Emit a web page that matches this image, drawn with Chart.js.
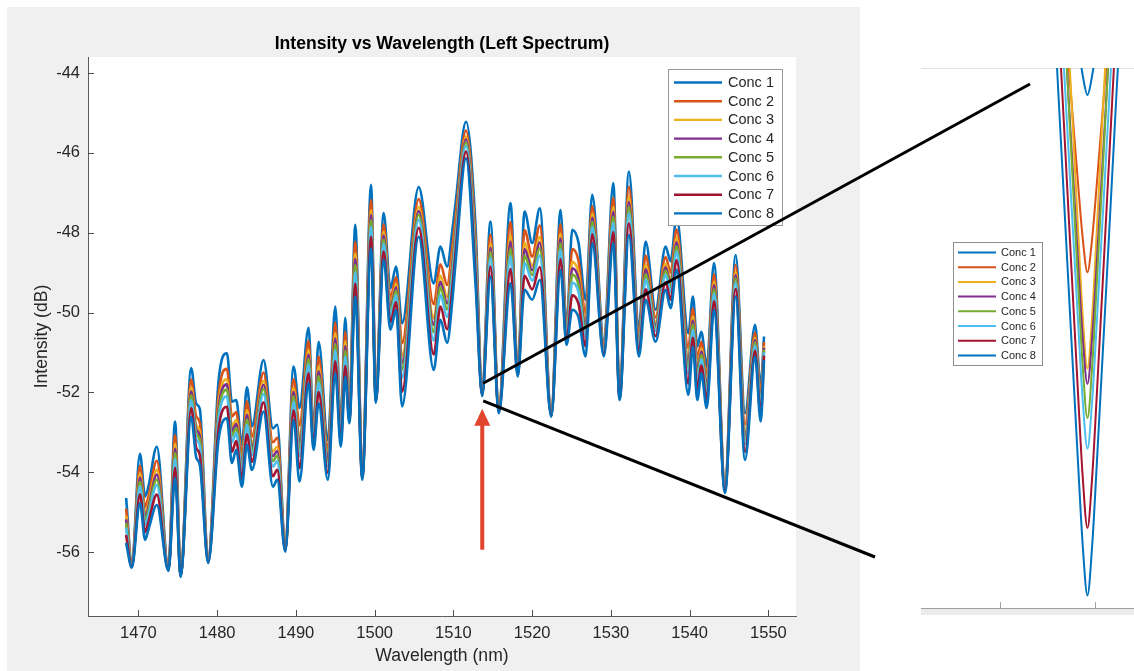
<!DOCTYPE html>
<html>
<head>
<meta charset="utf-8">
<script src="https://cdn.jsdelivr.net/npm/chart.js@4.4.1/dist/chart.umd.min.js"></script>
<style>
  html, body { margin: 0; padding: 0; background: #fff; }
  #wrap { position: relative; width: 1134px; height: 671px; overflow: hidden; }
  #mainChart { position: absolute; left: 0; top: 0; }
  #zoomChart { position: absolute; left: 900px; top: 0; }
</style>
</head>
<body>
<div id="wrap">
  <canvas id="mainChart" width="1134" height="671"></canvas>
  <canvas id="zoomChart" width="234" height="671"></canvas>
</div>
<script>
const chartTitle = 'Intensity vs Wavelength (Left Spectrum)';
const seriesNames = ['Conc 1', 'Conc 2', 'Conc 3', 'Conc 4', 'Conc 5', 'Conc 6', 'Conc 7', 'Conc 8'];
const seriesColors = ['#0072BD', '#D95319', '#EDB120', '#7E2F8E', '#77AC30', '#4DBEEE', '#A2142F', '#0072BD'];
const xTicks = [1470, 1480, 1490, 1500, 1510, 1520, 1530, 1540, 1550];
const yTicks = [-56, -54, -52, -50, -48, -46, -44];

// wavelength (nm) of each sample
const wavelength = [
  1468.44, 1469.16, 1470.20, 1470.85, 1471.27, 1472.34, 1473.81, 1474.66, 1475.36, 1476.70,
  1477.33, 1477.80, 1478.86, 1480.17, 1481.24, 1481.87, 1482.42, 1483.14, 1483.78, 1484.41,
  1485.89, 1487.08, 1487.63, 1488.65, 1489.70, 1490.46, 1491.61, 1492.24, 1492.88, 1494.05,
  1495.00, 1495.70, 1496.27, 1496.78, 1497.54, 1498.43, 1499.54, 1500.15, 1501.14, 1502.00,
  1502.72, 1503.48, 1505.59, 1507.50, 1508.35, 1509.20, 1509.87, 1510.25, 1511.60, 1512.80,
  1513.65, 1514.70, 1515.76, 1517.25, 1518.17, 1519.03, 1520.00, 1520.97, 1522.42, 1523.60,
  1524.36, 1525.09, 1525.89, 1526.78, 1527.63, 1529.10, 1530.30, 1531.10, 1532.28, 1533.55,
  1534.40, 1535.67, 1536.94, 1537.58, 1538.34, 1539.83, 1540.41, 1540.97, 1541.48, 1542.16,
  1543.09, 1544.48, 1545.84, 1547.03, 1548.30, 1549.02, 1549.44
];

const conc1 = [
  -54.64, -56.27, -53.54, -54.61, -54.36, -53.36, -56.39, -52.73, -56.54, -51.39,
  -52.28, -52.42, -56.14, -51.73, -51.02, -52.23, -52.19, -53.31, -51.87, -52.85,
  -51.19, -52.90, -52.81, -55.82, -51.35, -52.39, -50.38, -52.94, -50.73, -53.19,
  -49.85, -52.81, -50.13, -52.44, -47.80, -53.99, -46.80, -52.01, -47.51, -49.39,
  -48.85, -50.27, -46.86, -49.27, -48.35, -48.85, -47.93, -47.30, -45.22, -47.80,
  -51.96, -47.72, -52.39, -47.26, -51.49, -47.47, -48.26, -47.39, -52.49, -47.43,
  -50.35, -47.93, -48.26, -49.68, -47.05, -50.69, -46.76, -52.01, -46.47, -50.35,
  -48.22, -49.93, -48.35, -48.72, -47.60, -50.52, -49.60, -50.85, -50.48, -51.35,
  -48.76, -54.27, -48.56, -52.52, -50.31, -51.85, -50.60
];
const conc2 = [
  -54.91, -56.30, -53.84, -54.87, -54.62, -53.71, -56.41, -53.07, -56.56, -51.68,
  -52.60, -52.76, -56.17, -52.08, -51.41, -52.60, -52.49, -53.56, -52.22, -53.11,
  -51.50, -53.25, -53.14, -55.86, -51.67, -52.83, -50.71, -53.06, -51.10, -53.43,
  -50.25, -52.94, -50.48, -52.52, -48.23, -54.04, -47.18, -52.07, -47.79, -49.64,
  -49.11, -50.77, -47.16, -49.79, -48.79, -49.31, -48.35, -47.66, -45.44, -48.15,
  -52.01, -48.05, -52.42, -47.74, -51.52, -47.94, -48.60, -47.82, -52.52, -47.79,
  -50.46, -48.41, -48.71, -50.02, -47.34, -50.79, -47.12, -52.05, -46.85, -50.53,
  -48.57, -50.12, -48.61, -49.00, -47.92, -50.89, -49.90, -51.17, -50.73, -51.60,
  -49.04, -54.33, -48.81, -52.80, -50.50, -52.06, -50.74
];
const conc3 = [
  -55.09, -56.32, -54.03, -55.04, -54.79, -53.94, -56.42, -53.29, -56.57, -51.88,
  -52.82, -52.98, -56.19, -52.31, -51.67, -52.85, -52.69, -53.73, -52.45, -53.29,
  -51.71, -53.48, -53.36, -55.89, -51.89, -53.13, -50.94, -53.14, -51.35, -53.59,
  -50.52, -53.03, -50.72, -52.57, -48.52, -54.07, -47.44, -52.11, -47.98, -49.81,
  -49.28, -51.10, -47.36, -50.14, -49.08, -49.61, -48.63, -47.90, -45.59, -48.39,
  -52.03, -48.27, -52.44, -48.06, -51.53, -48.25, -48.83, -48.11, -52.54, -48.03,
  -50.53, -48.73, -49.01, -50.25, -47.53, -50.85, -47.36, -52.08, -47.11, -50.65,
  -48.80, -50.25, -48.78, -49.19, -48.13, -51.14, -50.10, -51.39, -50.90, -51.77,
  -49.23, -54.37, -48.98, -52.99, -50.63, -52.20, -50.84
];
const conc4 = [
  -55.18, -56.33, -54.13, -55.13, -54.88, -54.06, -56.43, -53.41, -56.58, -51.98,
  -52.92, -53.09, -56.20, -52.43, -51.80, -52.97, -52.79, -53.81, -52.56, -53.37,
  -51.81, -53.60, -53.47, -55.90, -51.99, -53.27, -51.05, -53.18, -51.47, -53.67,
  -50.65, -53.07, -50.84, -52.60, -48.66, -54.09, -47.56, -52.13, -48.07, -49.89,
  -49.37, -51.27, -47.46, -50.31, -49.23, -49.77, -48.77, -48.02, -45.66, -48.51,
  -52.04, -48.38, -52.45, -48.22, -51.54, -48.41, -48.94, -48.25, -52.55, -48.15,
  -50.57, -48.89, -49.16, -50.36, -47.63, -50.89, -47.48, -52.10, -47.23, -50.71,
  -48.92, -50.31, -48.87, -49.28, -48.24, -51.26, -50.20, -51.49, -50.98, -51.85,
  -49.32, -54.39, -49.06, -53.08, -50.69, -52.27, -50.88
];
const conc5 = [
  -55.27, -56.34, -54.23, -55.21, -54.96, -54.18, -56.43, -53.52, -56.58, -52.07,
  -53.03, -53.20, -56.21, -52.55, -51.93, -53.09, -52.89, -53.90, -52.68, -53.46,
  -51.91, -53.72, -53.58, -55.92, -52.10, -53.42, -51.16, -53.22, -51.59, -53.75,
  -50.79, -53.12, -50.95, -52.62, -48.81, -54.10, -47.69, -52.15, -48.17, -49.97,
  -49.45, -51.43, -47.55, -50.49, -49.37, -49.92, -48.91, -48.14, -45.74, -48.62,
  -52.04, -48.49, -52.46, -48.39, -51.55, -48.57, -49.06, -48.39, -52.56, -48.27,
  -50.61, -49.05, -49.31, -50.48, -47.73, -50.92, -47.60, -52.11, -47.36, -50.77,
  -49.04, -50.38, -48.95, -49.38, -48.34, -51.38, -50.30, -51.60, -51.06, -51.93,
  -49.42, -54.41, -49.14, -53.18, -50.75, -52.34, -50.93
];
const conc6 = [
  -55.39, -56.35, -54.35, -55.32, -55.07, -54.32, -56.44, -53.66, -56.59, -52.20,
  -53.16, -53.34, -56.23, -52.69, -52.10, -53.25, -53.02, -54.00, -52.82, -53.57,
  -52.04, -53.86, -53.72, -55.93, -52.23, -53.60, -51.30, -53.27, -51.75, -53.85,
  -50.95, -53.17, -51.10, -52.66, -48.99, -54.12, -47.85, -52.18, -48.28, -50.08,
  -49.56, -51.64, -47.68, -50.70, -49.56, -50.11, -49.09, -48.29, -45.83, -48.77,
  -52.05, -48.63, -52.48, -48.59, -51.56, -48.76, -49.20, -48.57, -52.57, -48.42,
  -50.65, -49.25, -49.49, -50.62, -47.85, -50.96, -47.75, -52.13, -47.52, -50.85,
  -49.18, -50.46, -49.06, -49.49, -48.48, -51.54, -50.43, -51.73, -51.17, -52.04,
  -49.53, -54.44, -49.25, -53.29, -50.83, -52.43, -50.99
];
const conc7 = [
  -55.57, -56.37, -54.55, -55.50, -55.25, -54.56, -56.46, -53.89, -56.61, -52.39,
  -53.38, -53.57, -56.25, -52.93, -52.36, -53.49, -53.22, -54.17, -53.05, -53.74,
  -52.25, -54.10, -53.94, -55.96, -52.45, -53.90, -51.52, -53.35, -51.99, -54.01,
  -51.22, -53.26, -51.34, -52.71, -49.28, -54.15, -48.10, -52.22, -48.47, -50.24,
  -49.74, -51.98, -47.88, -51.05, -49.85, -50.42, -49.37, -48.53, -45.97, -49.01,
  -52.07, -48.85, -52.50, -48.91, -51.58, -49.08, -49.42, -48.86, -52.59, -48.66,
  -50.73, -49.57, -49.79, -50.84, -48.04, -51.03, -47.99, -52.16, -47.77, -50.97,
  -49.42, -50.59, -49.24, -49.68, -48.69, -51.78, -50.63, -51.95, -51.33, -52.20,
  -49.72, -54.48, -49.41, -53.48, -50.96, -52.57, -51.08
];
const conc8 = [
  -55.77, -56.39, -54.77, -55.69, -55.44, -54.82, -56.47, -54.14, -56.62, -52.61,
  -53.62, -53.82, -56.27, -53.19, -52.65, -53.77, -53.44, -54.36, -53.31, -53.94,
  -52.48, -54.36, -54.19, -55.99, -52.69, -54.23, -51.77, -53.44, -52.27, -54.19,
  -51.52, -53.36, -51.60, -52.77, -49.60, -54.19, -48.39, -52.26, -48.68, -50.43,
  -49.93, -52.35, -48.10, -51.44, -50.18, -50.76, -49.68, -48.80, -46.14, -49.27,
  -52.09, -49.10, -52.52, -49.27, -51.60, -49.43, -49.68, -49.18, -52.61, -48.93,
  -50.81, -49.93, -50.13, -51.10, -48.26, -51.10, -48.26, -52.19, -48.06, -51.10,
  -49.68, -50.73, -49.43, -49.89, -48.93, -52.06, -50.85, -52.19, -51.52, -52.39,
  -49.93, -54.52, -49.60, -53.69, -51.10, -52.73, -51.19
];
const seriesValues = [conc1, conc2, conc3, conc4, conc5, conc6, conc7, conc8];

// zoomed view of the dip near 1513.6 nm
const zoomWavelength = [1513.552, 1513.562, 1513.572, 1513.582, 1513.587, 1513.592, 1513.597, 1513.602, 1513.612, 1513.622, 1513.632];
const zoomTicks = [1513.5, 1513.6];
const zoom1 = [-51.539, -51.617, -51.695, -51.772, -51.808, -51.830, -51.808, -51.772, -51.695, -51.617, -51.539];
const zoom2 = [-51.524, -51.659, -51.794, -51.927, -51.989, -52.027, -51.989, -51.927, -51.794, -51.659, -51.524];
const zoom3 = [-51.348, -51.559, -51.770, -51.977, -52.075, -52.134, -52.075, -51.977, -51.770, -51.559, -51.348];
const zoom4 = [-51.459, -51.645, -51.830, -52.013, -52.099, -52.151, -52.099, -52.013, -51.830, -51.645, -51.459];
const zoom5 = [-51.423, -51.629, -51.834, -52.036, -52.131, -52.189, -52.131, -52.036, -51.834, -51.629, -51.423];
const zoom6 = [-51.505, -51.699, -51.891, -52.080, -52.169, -52.223, -52.169, -52.080, -51.891, -51.699, -51.505];
const zoom7 = [-51.552, -51.756, -51.959, -52.160, -52.254, -52.311, -52.254, -52.160, -51.959, -51.756, -51.552];
const zoom8 = [-51.639, -51.840, -52.040, -52.237, -52.330, -52.386, -52.330, -52.237, -52.040, -51.840, -51.639];
const zoomValues = [zoom1, zoom2, zoom3, zoom4, zoom5, zoom6, zoom7, zoom8];

// annotation anchors (data units on the main axes, page pixels for the far ends)
const zoomMark = { wavelength: 1513.78, upper: -51.77, lower: -52.21, upperEnd: [1030, 84], lowerEnd: [875, 557] };
const arrowMark = { wavelength: 1513.66, tip: -52.41, tail: -55.94 };

const fontFamily = '"Liberation Sans", Arial, Helvetica, sans-serif';
const textColor = '#262626';

function strokeLine(ctx, x0, y0, x1, y1) {
  ctx.beginPath();
  ctx.moveTo(x0, y0);
  ctx.lineTo(x1, y1);
  ctx.stroke();
}

function drawLegend(ctx, box) {
  ctx.save();
  ctx.fillStyle = '#ffffff';
  ctx.fillRect(box.x, box.y, box.w, box.h);
  ctx.strokeStyle = box.edge;
  ctx.lineWidth = 1;
  ctx.strokeRect(box.x + 0.5, box.y + 0.5, box.w - 1, box.h - 1);
  ctx.font = box.fontSize + 'px ' + fontFamily;
  ctx.textAlign = 'left';
  ctx.textBaseline = 'middle';
  seriesNames.forEach((name, i) => {
    const y = box.firstRow + i * box.rowStep;
    ctx.strokeStyle = seriesColors[i];
    ctx.lineWidth = box.lineWidth;
    strokeLine(ctx, box.lineX0, y, box.lineX1, y);
    ctx.fillStyle = textColor;
    ctx.fillText(name, box.textX, y + 0.5);
  });
  ctx.restore();
}

const mainDecor = {
  id: 'mainDecor',
  beforeDraw(chart) {
    const { ctx, chartArea: a } = chart;
    ctx.save();
    ctx.fillStyle = '#f0f0f0';
    ctx.fillRect(7, 7, 853, 664);
    ctx.fillStyle = '#ffffff';
    ctx.fillRect(a.left, a.top, a.right - a.left, a.bottom - a.top);
    ctx.fillStyle = '#000';
    ctx.font = 'bold 17.6px ' + fontFamily;
    ctx.textAlign = 'center';
    ctx.textBaseline = 'middle';
    ctx.fillText(chartTitle, (a.left + a.right) / 2, 44);
    ctx.restore();
  },
  afterDatasetsDraw(chart) {
    const { ctx, chartArea: a } = chart;
    const xs = chart.scales.x, ys = chart.scales.y;
    ctx.save();
    // inward ticks, MATLAB style
    ctx.strokeStyle = '#4d4d4d';
    ctx.lineWidth = 1;
    xTicks.forEach(v => {
      const px = Math.round(xs.getPixelForValue(v)) + 0.5;
      strokeLine(ctx, px, a.bottom, px, a.bottom - 6);
    });
    yTicks.forEach(v => {
      const py = Math.round(ys.getPixelForValue(v)) + 0.5;
      strokeLine(ctx, a.left, py, a.left + 6, py);
    });
    ctx.restore();

    drawLegend(ctx, {
      x: 668, y: 69, w: 115, h: 157, firstRow: 82.5, rowStep: 18.7,
      lineX0: 674, lineX1: 722, textX: 728, fontSize: 14.5, lineWidth: 2.4, edge: '#9a9a9a'
    });

    ctx.save();
    // lines to the zoomed view
    const sx = xs.getPixelForValue(zoomMark.wavelength);
    ctx.strokeStyle = '#000';
    ctx.lineWidth = 3;
    strokeLine(ctx, sx, ys.getPixelForValue(zoomMark.upper), zoomMark.upperEnd[0], zoomMark.upperEnd[1]);
    strokeLine(ctx, sx, ys.getPixelForValue(zoomMark.lower), zoomMark.lowerEnd[0], zoomMark.lowerEnd[1]);
    // red arrow
    const ax = xs.getPixelForValue(arrowMark.wavelength);
    const tipY = ys.getPixelForValue(arrowMark.tip);
    const tailY = ys.getPixelForValue(arrowMark.tail);
    ctx.strokeStyle = '#e2452d';
    ctx.fillStyle = '#e2452d';
    ctx.lineWidth = 4;
    strokeLine(ctx, ax, tailY, ax, tipY + 14);
    ctx.beginPath();
    ctx.moveTo(ax, tipY);
    ctx.lineTo(ax - 8, tipY + 17);
    ctx.lineTo(ax + 8, tipY + 17);
    ctx.closePath();
    ctx.fill();
    ctx.restore();
  }
};

const insetDecor = {
  id: 'insetDecor',
  beforeDraw(chart) {
    const { ctx, chartArea: a } = chart;
    const xs = chart.scales.x;
    ctx.save();
    ctx.fillStyle = '#ebebeb';
    ctx.fillRect(a.left, a.bottom, a.right - a.left, 7);
    ctx.strokeStyle = '#e2e2e2';
    ctx.lineWidth = 1;
    strokeLine(ctx, a.left, a.top + 0.5, a.right, a.top + 0.5);
    ctx.strokeStyle = '#a0a0a0';
    strokeLine(ctx, a.left, a.bottom + 0.5, a.right, a.bottom + 0.5);
    zoomTicks.forEach(v => {
      const px = Math.round(xs.getPixelForValue(v)) + 0.5;
      strokeLine(ctx, px, a.bottom, px, a.bottom - 6);
    });
    ctx.restore();
  },
  afterDatasetsDraw(chart) {
    drawLegend(chart.ctx, {
      x: 53, y: 242, w: 90, h: 124, firstRow: 252.5, rowStep: 14.7,
      lineX0: 58, lineX1: 96, textX: 101, fontSize: 11, lineWidth: 2, edge: '#8f8f8f'
    });
  }
};

const mainDatasets = seriesValues.map((vals, i) => ({
  label: seriesNames[i],
  data: wavelength.map((w, j) => ({ x: w, y: vals[j] })),
  borderColor: seriesColors[i],
  borderWidth: 2.6,
  pointRadius: 0,
  fill: false,
  cubicInterpolationMode: 'monotone',
  order: seriesValues.length - i
}));

new Chart(document.getElementById('mainChart'), {
  type: 'line',
  data: { datasets: mainDatasets },
  options: {
    responsive: false,
    animation: false,
    events: [],
    layout: { padding: { left: 0, top: 57, right: 338, bottom: 0 } },
    plugins: { legend: { display: false }, tooltip: { enabled: false }, title: { display: false } },
    scales: {
      x: {
        type: 'linear', min: 1463.6, max: 1553.5,
        afterBuildTicks: s => { s.ticks = xTicks.map(v => ({ value: v })); },
        afterFit: s => { s.height = 55; },
        grid: { display: false, drawTicks: false, tickLength: 0 },
        border: { display: true, color: '#5a5a5a', width: 1 },
        ticks: { padding: 8, color: textColor, font: { family: fontFamily, size: 16.5 }, callback: v => String(v), maxRotation: 0 },
        title: { display: true, text: 'Wavelength (nm)', color: textColor, font: { family: fontFamily, size: 17.6 }, padding: { top: 0, bottom: 4.5 } }
      },
      y: {
        type: 'linear', min: -57.6, max: -43.6,
        afterBuildTicks: s => { s.ticks = yTicks.map(v => ({ value: v })); },
        afterFit: s => { s.width = 88; },
        grid: { display: false, drawTicks: false, tickLength: 0 },
        border: { display: true, color: '#5a5a5a', width: 1 },
        ticks: { padding: 8, color: textColor, font: { family: fontFamily, size: 16.5 }, callback: v => String(v) },
        title: { display: true, text: 'Intensity (dB)', color: textColor, font: { family: fontFamily, size: 17.6 }, padding: { top: 31.5, bottom: 0 } }
      }
    }
  },
  plugins: [mainDecor]
});

const zoomDatasets = zoomValues.map((vals, i) => ({
  label: seriesNames[i],
  data: zoomWavelength.map((w, j) => ({ x: w, y: vals[j] })),
  borderColor: seriesColors[i],
  borderWidth: 2,
  pointRadius: 0,
  fill: false,
  cubicInterpolationMode: 'monotone',
  order: zoomValues.length - i
}));

new Chart(document.getElementById('zoomChart'), {
  type: 'line',
  data: { datasets: zoomDatasets },
  options: {
    responsive: false,
    animation: false,
    events: [],
    layout: { padding: { left: 21, top: 68, right: 0, bottom: 63 } },
    plugins: { legend: { display: false }, tooltip: { enabled: false } },
    scales: {
      x: { type: 'linear', display: false, min: 1513.4168, max: 1513.641 },
      y: { type: 'linear', display: false, min: -52.4, max: -51.8 }
    }
  },
  plugins: [insetDecor]
});
</script>
</body>
</html>
